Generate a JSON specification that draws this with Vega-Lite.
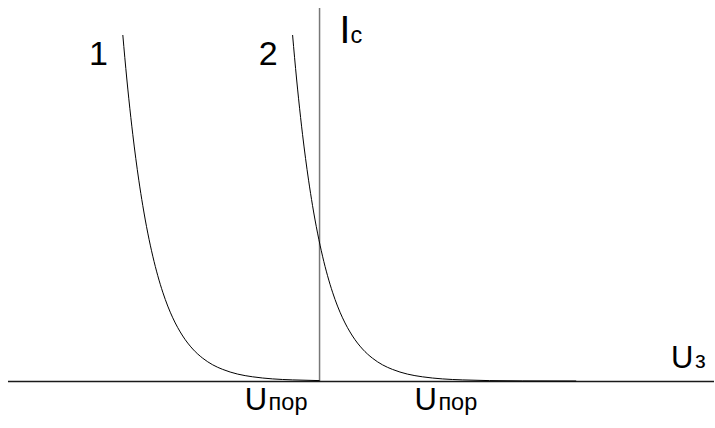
{
  "$schema": "https://vega.github.io/schema/vega-lite/v6.json",
  "width": 715,
  "height": 428,
  "autosize": {"type": "fit", "contains": "padding"},
  "padding": 0,
  "background": "white",
  "config": {"view": {"stroke": null}, "axis": {"disable": true}},
  "datasets": {
    "curves": [
      {"curve": "1", "u": -197, "i": 346}, {"curve": "1", "u": -195, "i": 323.3}, {"curve": "1", "u": -193, "i": 302.0},
      {"curve": "1", "u": -191, "i": 282.2}, {"curve": "1", "u": -189, "i": 263.6}, {"curve": "1", "u": -187, "i": 246.3},
      {"curve": "1", "u": -184, "i": 222.4}, {"curve": "1", "u": -181, "i": 200.8}, {"curve": "1", "u": -177, "i": 175.3},
      {"curve": "1", "u": -172, "i": 147.9}, {"curve": "1", "u": -167, "i": 124.8}, {"curve": "1", "u": -162, "i": 105.3},
      {"curve": "1", "u": -157, "i": 88.8}, {"curve": "1", "u": -152, "i": 74.9}, {"curve": "1", "u": -147, "i": 63.2},
      {"curve": "1", "u": -137, "i": 45.0}, {"curve": "1", "u": -127, "i": 32.0}, {"curve": "1", "u": -117, "i": 22.8},
      {"curve": "1", "u": -107, "i": 16.2}, {"curve": "1", "u": -97, "i": 11.6}, {"curve": "1", "u": -82, "i": 6.9},
      {"curve": "1", "u": -67, "i": 4.2}, {"curve": "1", "u": -47, "i": 2.1}, {"curve": "1", "u": -27, "i": 1.1},
      {"curve": "1", "u": 0, "i": 0.4},
      {"curve": "2", "u": -27, "i": 346}, {"curve": "2", "u": -25, "i": 323.3}, {"curve": "2", "u": -23, "i": 302.0},
      {"curve": "2", "u": -21, "i": 282.2}, {"curve": "2", "u": -19, "i": 263.6}, {"curve": "2", "u": -17, "i": 246.3},
      {"curve": "2", "u": -14, "i": 222.4}, {"curve": "2", "u": -11, "i": 200.8}, {"curve": "2", "u": -7, "i": 175.3},
      {"curve": "2", "u": -2, "i": 147.9}, {"curve": "2", "u": 3, "i": 124.8}, {"curve": "2", "u": 8, "i": 105.3},
      {"curve": "2", "u": 13, "i": 88.8}, {"curve": "2", "u": 18, "i": 74.9}, {"curve": "2", "u": 23, "i": 63.2},
      {"curve": "2", "u": 33, "i": 45.0}, {"curve": "2", "u": 43, "i": 32.0}, {"curve": "2", "u": 53, "i": 22.8},
      {"curve": "2", "u": 63, "i": 16.2}, {"curve": "2", "u": 73, "i": 11.6}, {"curve": "2", "u": 88, "i": 6.9},
      {"curve": "2", "u": 103, "i": 4.2}, {"curve": "2", "u": 123, "i": 2.1}, {"curve": "2", "u": 143, "i": 1.1},
      {"curve": "2", "u": 170, "i": 0.4}, {"curve": "2", "u": 203, "i": 0.1}, {"curve": "2", "u": 257, "i": 0}
    ],
    "bigLabels": [
      {"label": "1", "u": -231, "i": 316},
      {"label": "2", "u": -61, "i": 316}
    ],
    "capitals": [
      {"label": "U", "u": -75, "i": -29},
      {"label": "U", "u": 95, "i": -29},
      {"label": "U", "u": 352, "i": 13}
    ],
    "smallLabels": [
      {"label": "пор", "u": -51, "i": -29},
      {"label": "пор", "u": 119, "i": -29},
      {"label": "з", "u": 376, "i": 13},
      {"label": "c", "u": 31, "i": 338}
    ],
    "currentLabel": [
      {"label": "I", "u": 20, "i": 338}
    ]
  },
  "layer": [
    {
      "data": {"values": [{}]},
      "mark": {"type": "rule", "color": "#777777", "strokeWidth": 1.5},
      "encoding": {
        "x": {"datum": 0, "type": "quantitative", "scale": {"domain": [-320, 395], "nice": false, "zero": false}},
        "y": {"datum": 0, "type": "quantitative", "scale": {"domain": [-47, 381], "nice": false, "zero": false}},
        "y2": {"datum": 373}
      }
    },
    {
      "data": {"values": [{}]},
      "mark": {"type": "rule", "color": "#1a1a1a", "strokeWidth": 1.6},
      "encoding": {
        "x": {"datum": -312, "type": "quantitative"},
        "x2": {"datum": 395},
        "y": {"datum": -0.5, "type": "quantitative"}
      }
    },
    {
      "data": {"name": "curves"},
      "mark": {"type": "line", "color": "black", "strokeWidth": 1, "interpolate": "monotone"},
      "encoding": {
        "x": {"field": "u", "type": "quantitative"},
        "y": {"field": "i", "type": "quantitative"},
        "detail": {"field": "curve"}
      }
    },
    {
      "data": {"name": "bigLabels"},
      "mark": {"type": "text", "font": "Liberation Sans", "fontSize": 34, "align": "left", "baseline": "alphabetic", "color": "black"},
      "encoding": {
        "x": {"field": "u", "type": "quantitative"},
        "y": {"field": "i", "type": "quantitative"},
        "text": {"field": "label"}
      }
    },
    {
      "data": {"name": "capitals"},
      "mark": {"type": "text", "font": "Liberation Sans", "fontSize": 31, "align": "left", "baseline": "alphabetic", "color": "black"},
      "encoding": {
        "x": {"field": "u", "type": "quantitative"},
        "y": {"field": "i", "type": "quantitative"},
        "text": {"field": "label"}
      }
    },
    {
      "data": {"name": "smallLabels"},
      "mark": {"type": "text", "font": "Liberation Sans", "fontSize": 23.5, "align": "left", "baseline": "alphabetic", "color": "black"},
      "encoding": {
        "x": {"field": "u", "type": "quantitative"},
        "y": {"field": "i", "type": "quantitative"},
        "text": {"field": "label"}
      }
    },
    {
      "data": {"name": "currentLabel"},
      "mark": {"type": "text", "font": "Liberation Sans", "fontSize": 39, "align": "left", "baseline": "alphabetic", "color": "black"},
      "encoding": {
        "x": {"field": "u", "type": "quantitative"},
        "y": {"field": "i", "type": "quantitative"},
        "text": {"field": "label"}
      }
    }
  ]
}
